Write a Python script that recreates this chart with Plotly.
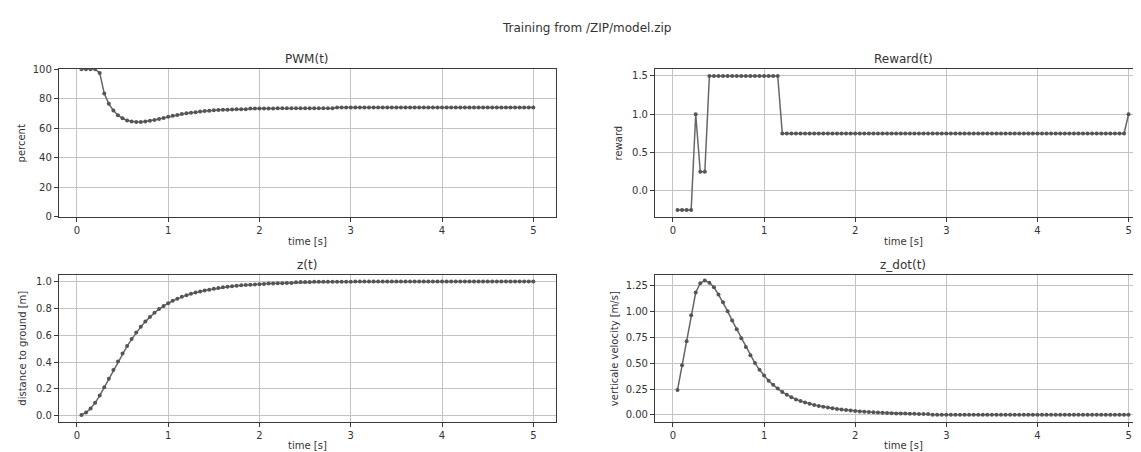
import plotly.graph_objects as go

# ---- data ----
time_s = [0.05, 0.10, 0.15, 0.20, 0.25, 0.30, 0.35, 0.40, 0.45, 0.50,
          0.55, 0.60, 0.65, 0.70, 0.75, 0.80, 0.85, 0.90, 0.95, 1.00,
          1.05, 1.10, 1.15, 1.20, 1.25, 1.30, 1.35, 1.40, 1.45, 1.50,
          1.55, 1.60, 1.65, 1.70, 1.75, 1.80, 1.85, 1.90, 1.95, 2.00,
          2.05, 2.10, 2.15, 2.20, 2.25, 2.30, 2.35, 2.40, 2.45, 2.50,
          2.55, 2.60, 2.65, 2.70, 2.75, 2.80, 2.85, 2.90, 2.95, 3.00,
          3.05, 3.10, 3.15, 3.20, 3.25, 3.30, 3.35, 3.40, 3.45, 3.50,
          3.55, 3.60, 3.65, 3.70, 3.75, 3.80, 3.85, 3.90, 3.95, 4.00,
          4.05, 4.10, 4.15, 4.20, 4.25, 4.30, 4.35, 4.40, 4.45, 4.50,
          4.55, 4.60, 4.65, 4.70, 4.75, 4.80, 4.85, 4.90, 4.95, 5.00]

pwm_percent = [100, 100, 100, 100, 97.5, 83.5, 76.5, 72.0, 68.8, 66.7,
               65.3, 64.5, 64.2, 64.2, 64.5, 65.0, 65.6, 66.3, 67.0, 67.7,
               68.4, 69.0, 69.6, 70.1, 70.5, 70.9, 71.3, 71.6, 71.9, 72.1,
               72.3, 72.5, 72.6, 72.7, 72.8, 72.9, 72.9, 73.3, 73.3, 73.4,
               73.4, 73.4, 73.4, 73.5, 73.5, 73.5, 73.5, 73.5, 73.6, 73.6,
               73.6, 73.6, 73.6, 73.6, 73.6, 73.6, 74.0, 74.0, 74.0, 74.0,
               74.0, 74.0, 74.0, 74.0, 74.0, 74.0, 74.0, 74.0, 74.0, 74.0,
               74.0, 74.0, 74.0, 74.0, 74.0, 74.0, 74.0, 74.0, 74.0, 74.0,
               74.0, 74.0, 74.0, 74.0, 74.0, 74.0, 74.0, 74.0, 74.0, 74.0,
               74.0, 74.0, 74.0, 74.0, 74.0, 74.0, 74.0, 74.0, 74.0, 74.0]

reward = [-0.25, -0.25, -0.25, -0.25, 1.0, 0.25, 0.25, 1.5, 1.5, 1.5,
          1.5, 1.5, 1.5, 1.5, 1.5, 1.5, 1.5, 1.5, 1.5, 1.5,
          1.5, 1.5, 1.5, 0.75, 0.75, 0.75, 0.75, 0.75, 0.75, 0.75,
          0.75, 0.75, 0.75, 0.75, 0.75, 0.75, 0.75, 0.75, 0.75, 0.75,
          0.75, 0.75, 0.75, 0.75, 0.75, 0.75, 0.75, 0.75, 0.75, 0.75,
          0.75, 0.75, 0.75, 0.75, 0.75, 0.75, 0.75, 0.75, 0.75, 0.75,
          0.75, 0.75, 0.75, 0.75, 0.75, 0.75, 0.75, 0.75, 0.75, 0.75,
          0.75, 0.75, 0.75, 0.75, 0.75, 0.75, 0.75, 0.75, 0.75, 0.75,
          0.75, 0.75, 0.75, 0.75, 0.75, 0.75, 0.75, 0.75, 0.75, 0.75,
          0.75, 0.75, 0.75, 0.75, 0.75, 0.75, 0.75, 0.75, 0.75, 1.0]

z_m = [0.006, 0.024, 0.054, 0.096, 0.150, 0.212, 0.276, 0.340, 0.403, 0.463,
       0.519, 0.571, 0.619, 0.662, 0.701, 0.736, 0.767, 0.794, 0.817, 0.838,
       0.856, 0.872, 0.886, 0.898, 0.909, 0.918, 0.926, 0.933, 0.939, 0.945,
       0.951, 0.956, 0.961, 0.965, 0.968, 0.971, 0.974, 0.976, 0.978, 0.980,
       0.982, 0.984, 0.985, 0.986, 0.987, 0.988, 0.989, 0.995, 0.996, 0.996,
       0.996, 0.997, 0.997, 0.997, 0.997, 0.998, 0.998, 0.998, 0.998, 0.998,
       0.999, 0.999, 0.999, 0.999, 0.999, 0.999, 0.999, 0.999, 0.999, 0.999,
       1.000, 1.000, 1.000, 1.000, 1.000, 1.000, 1.000, 1.000, 1.000, 1.000,
       1.000, 1.000, 1.000, 1.000, 1.000, 1.000, 1.000, 1.000, 1.000, 1.000,
       1.000, 1.000, 1.000, 1.000, 1.000, 1.000, 1.000, 1.000, 1.000, 1.000]

z_dot_ms = [0.24, 0.48, 0.71, 0.96, 1.18, 1.27, 1.295, 1.275, 1.23, 1.16,
            1.085, 1.00, 0.91, 0.825, 0.74, 0.655, 0.575, 0.50, 0.435, 0.38,
            0.33, 0.29, 0.255, 0.22, 0.195, 0.17, 0.15, 0.135, 0.12, 0.107,
            0.096, 0.087, 0.079, 0.071, 0.064, 0.058, 0.052, 0.047, 0.042, 0.038,
            0.034, 0.031, 0.028, 0.025, 0.023, 0.021, 0.019, 0.017, 0.015, 0.014,
            0.013, 0.012, 0.011, 0.010, 0.009, 0.008, 0.003, 0.003, 0.003, 0.003,
            0.003, 0.003, 0.003, 0.003, 0.003, 0.003, 0.002, 0.002, 0.002, 0.002,
            0.002, 0.002, 0.002, 0.002, 0.002, 0.002, 0.002, 0.002, 0.002, 0.002,
            0.001, 0.001, 0.001, 0.001, 0.001, 0.001, 0.001, 0.001, 0.001, 0.001,
            0.001, 0.001, 0.001, 0.001, 0.001, 0.001, 0.001, 0.001, 0.001, 0.001]

x_ticks = [0, 1, 2, 3, 4, 5]
panel_titles = ["PWM(t)", "Reward(t)", "z(t)", "z_dot(t)"]
y_labels = ["percent", "reward", "distance to ground [m]", "verticale velocity [m/s]"]
x_label = "time [s]"
suptitle = "Training from /ZIP/model.zip"

# ---- styling / layout ----
W, H = 1141, 452
FONT = "DejaVu Sans"
LINE_C = "#666666"
MARK_C = "#555555"
SPINE_C = "#3a3a3a"
GRID_C = "#c4c4c4"

def px(x):
    return x / W

def py(y):
    return 1 - y / H

left_dom = [px(50.9), px(548.4)]
right_dom = [px(647.5), 1.0]
top_dom = [py(208.3), py(56.7)]
bot_dom = [py(418.7), py(268.0)]

fig = go.Figure()

series = [pwm_percent, reward, z_m, z_dot_ms]
axes_ids = [("x", "y"), ("x2", "y2"), ("x3", "y3"), ("x4", "y4")]
for s, (xa, ya) in zip(series, axes_ids):
    fig.add_trace(go.Scatter(
        x=time_s, y=s, xaxis=xa, yaxis=ya, mode="lines+markers",
        line=dict(color=LINE_C, width=1.5),
        marker=dict(color=MARK_C, size=4),
        showlegend=False, hoverinfo="skip"))

common = dict(
    showline=True, mirror=True, linecolor=SPINE_C, linewidth=1,
    ticks="outside", ticklen=4, tickwidth=1, tickcolor=SPINE_C,
    showgrid=True, gridcolor=GRID_C, gridwidth=1, zeroline=False,
    tickfont=dict(family=FONT, size=10, color="#333333"),
)

xr_left = [-0.1975, 5.2475]
xr_right = [-0.1975, 5.213]

fig.update_layout(
    width=W, height=H, autosize=False,
    margin=dict(l=0, r=0, t=0, b=0),
    paper_bgcolor="white", plot_bgcolor="white",
    font=dict(family=FONT, color="#333333"),
    xaxis=dict(domain=left_dom, anchor="y", range=xr_left, tickvals=x_ticks, **common),
    yaxis=dict(domain=top_dom, anchor="x", range=[0, 100], tickvals=[0, 20, 40, 60, 80, 100], **common),
    xaxis2=dict(domain=right_dom, anchor="y2", range=xr_right, tickvals=x_ticks, **common),
    yaxis2=dict(domain=top_dom, anchor="x2", range=[-0.3375, 1.5875], tickvals=[0.0, 0.5, 1.0, 1.5],
                tickformat=".1f", **common),
    xaxis3=dict(domain=left_dom, anchor="y3", range=xr_left, tickvals=x_ticks, **common),
    yaxis3=dict(domain=bot_dom, anchor="x3", range=[-0.0435, 1.049], tickvals=[0, 0.2, 0.4, 0.6, 0.8, 1.0],
                tickformat=".1f", **common),
    xaxis4=dict(domain=right_dom, anchor="y4", range=xr_right, tickvals=x_ticks, **common),
    yaxis4=dict(domain=bot_dom, anchor="x4", range=[-0.064, 1.35], tickvals=[0, 0.25, 0.5, 0.75, 1.0, 1.25],
                tickformat=".2f", **common),
)

ann = []
ann.append(dict(text=suptitle, x=px(579), y=py(14), xref="paper", yref="paper",
                xanchor="center", yanchor="middle", showarrow=False,
                font=dict(family=FONT, size=12, color="#333333")))
cx = [px(299.6), px(895.8)]
title_y = [py(46.7), py(257.7)]
for i, t in enumerate(panel_titles):
    ann.append(dict(text=t, x=cx[i % 2], y=title_y[i // 2], xref="paper", yref="paper",
                    xanchor="center", yanchor="middle", showarrow=False,
                    font=dict(family=FONT, size=12, color="#333333")))
xl_y = [py(233.5), py(443.5)]
for r in range(2):
    for c in range(2):
        ann.append(dict(text=x_label, x=cx[c], y=xl_y[r], xref="paper", yref="paper",
                        xanchor="center", yanchor="middle", showarrow=False,
                        font=dict(family=FONT, size=10, color="#333333")))
yl_x = [px(13.5), px(612), px(14.5), px(606.5)]
yl_y = [py(132.5), py(132.5), py(343.3), py(343.3)]
for i, t in enumerate(y_labels):
    ann.append(dict(text=t, x=yl_x[i], y=yl_y[i], xref="paper", yref="paper",
                    xanchor="center", yanchor="middle", textangle=-90, showarrow=False,
                    font=dict(family=FONT, size=10, color="#333333")))

fig.update_layout(annotations=ann)
fig.write_html("out.html")
